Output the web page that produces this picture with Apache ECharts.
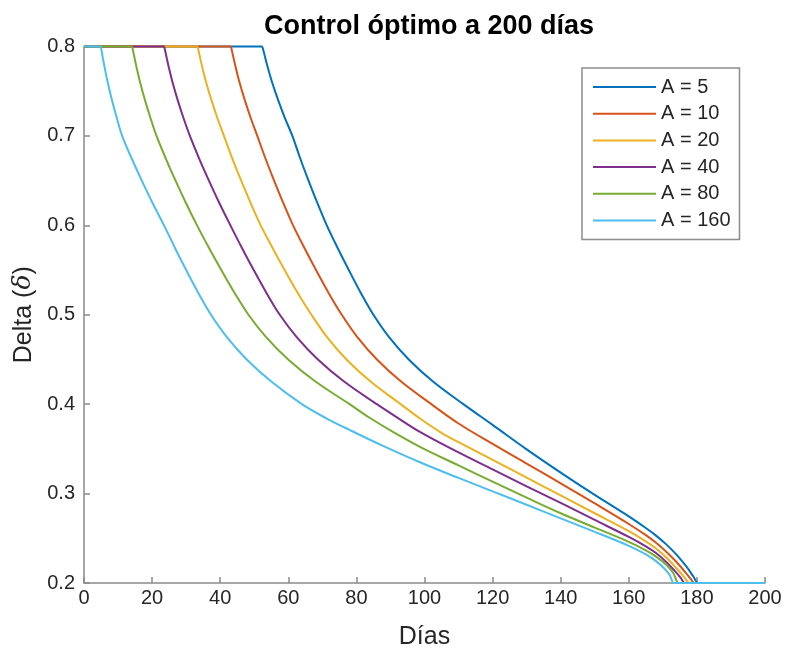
<!DOCTYPE html>
<html>
<head>
	<meta charset="utf-8" />
	<title>Control óptimo a 200 días</title>
	<script type="text/javascript" src="https://cdn.jsdelivr.net/npm/echarts@6/dist/echarts.min.js"></script>
	<style>
		html, body {margin:0;padding:0;background:#fff;}
		#chart {width:786px;height:654px;}
	</style>
</head>
<body>
	<div id="chart"></div>

	<script>
		// leyenda y colores (MATLAB por defecto)
		var names  = ['A = 5', 'A = 10', 'A = 20', 'A = 40', 'A = 80', 'A = 160'];
		var colors = ['#0072BD', '#D95319', '#EDB120', '#7E2F8E', '#77AC30', '#4DBEEE'];

		// [día, delta]
		var curveA5 = [[0,0.8],[51.6,0.8],[52.2,0.8],[52.72,0.795],[53.25,0.787],[53.88,0.778],[55.24,0.76],[57.02,0.74],[59.01,0.72],[61.2,0.7],[63.48,0.675],[65.94,0.65],[68.53,0.625],[71.3,0.6],[74.46,0.575],[77.77,0.55],[81.22,0.525],[85.0,0.5],[89.6,0.475],[95.37,0.45],[102.59,0.425],[111.4,0.4],[120,0.3768],[130,0.3495],[140,0.3235],[150,0.2985],[160,0.2745],[165,0.2615],[168,0.253],[171,0.2432],[174,0.2318],[177,0.218],[179,0.207],[180.3,0.2],[180.8,0.2],[200,0.2]];
		var curveA10 = [[0,0.8],[42.4,0.8],[43.0,0.8],[43.46,0.795],[43.92,0.787],[44.47,0.778],[45.66,0.76],[47.23,0.74],[48.97,0.72],[50.9,0.7],[53.27,0.675],[55.83,0.65],[58.52,0.625],[61.4,0.6],[64.7,0.575],[68.15,0.55],[71.75,0.525],[75.7,0.5],[80.28,0.475],[86.03,0.45],[93.21,0.425],[102.0,0.4],[110,0.3784],[120,0.3555],[130,0.3335],[140,0.3115],[150,0.289],[160,0.266],[165,0.2535],[168,0.245],[171,0.235],[174,0.2235],[176.5,0.2125],[178.2,0.2045],[179.2,0.2],[179.7,0.2],[200,0.2]];
		var curveA20 = [[0,0.8],[32.6,0.8],[33.2,0.8],[33.66,0.795],[34.12,0.787],[34.67,0.778],[35.86,0.76],[37.43,0.74],[39.17,0.72],[41.1,0.7],[43.54,0.675],[46.17,0.65],[48.94,0.625],[51.9,0.6],[55.34,0.575],[58.93,0.55],[62.68,0.525],[66.8,0.5],[71.37,0.475],[77.09,0.45],[84.25,0.425],[93.0,0.4],[98.65,0.384],[105,0.368],[110,0.3575],[120,0.3378],[130,0.3178],[140,0.298],[150,0.278],[160,0.258],[165,0.2465],[168,0.2385],[171,0.2285],[174,0.2165],[176.3,0.2065],[177.8,0.2],[178.3,0.2],[200,0.2]];
		var curveA40 = [[0,0.8],[22.8,0.8],[23.4,0.8],[23.85,0.795],[24.3,0.787],[24.83,0.778],[26.0,0.76],[27.52,0.74],[29.22,0.72],[31.1,0.7],[33.79,0.675],[36.69,0.65],[39.74,0.625],[43.0,0.6],[46.35,0.575],[49.84,0.55],[53.5,0.525],[57.5,0.5],[62.47,0.475],[68.69,0.45],[76.48,0.425],[86.0,0.4],[91,0.3875],[98.65,0.369],[110,0.346],[120,0.327],[130,0.308],[140,0.2895],[150,0.2705],[160,0.2515],[165,0.241],[168,0.2335],[171,0.2235],[173.5,0.2135],[175.3,0.2055],[176.4,0.2],[176.9,0.2],[200,0.2]];
		var curveA80 = [[0,0.8],[13.4,0.8],[14.0,0.8],[14.42,0.795],[14.85,0.787],[15.36,0.778],[16.46,0.76],[17.91,0.74],[19.52,0.72],[21.3,0.7],[23.99,0.675],[26.89,0.65],[29.94,0.625],[33.2,0.6],[36.68,0.575],[40.33,0.55],[44.13,0.525],[48.3,0.5],[53.48,0.475],[59.96,0.45],[68.08,0.425],[78.0,0.4],[84,0.3845],[91,0.3684],[98.65,0.3523],[110,0.3315],[120,0.3134],[130,0.2955],[140,0.278],[150,0.262],[160,0.246],[165,0.2365],[168,0.2295],[171,0.2205],[173,0.2115],[174.6,0.2],[175.1,0.2],[200,0.2]];
		var curveA160 = [[0,0.8],[4.2,0.8],[4.8,0.8],[5.17,0.795],[5.54,0.787],[5.99,0.778],[6.96,0.76],[8.22,0.74],[9.64,0.72],[11.2,0.7],[13.98,0.675],[16.98,0.65],[20.13,0.625],[23.5,0.6],[26.68,0.575],[30.01,0.55],[33.49,0.525],[37.3,0.5],[41.96,0.475],[47.79,0.45],[55.09,0.425],[64.0,0.4],[71,0.3845],[78.1,0.371],[88,0.353],[98.65,0.335],[110,0.3175],[120,0.3025],[130,0.2875],[140,0.2722],[150,0.2572],[160,0.2415],[165,0.232],[168,0.2245],[170.5,0.216],[172,0.209],[173.2,0.2],[173.7,0.2],[200,0.2]];

		var curves = [curveA5, curveA10, curveA20, curveA40, curveA80, curveA160];

		var font = 'Liberation Sans, Arial, Helvetica, sans-serif';
		var axisGray = '#8a8a8a';
		var textColor = '#262626';

		var chart = echarts.init(document.getElementById('chart'), null, {renderer: 'canvas'});

		var series = curves.map(function(data, i) {
			return {
				name: names[i],
				type: 'line',
				data: data,
				smooth: 0.35,
				symbol: 'none',
				clip: false,
				lineStyle: {color: colors[i], width: 2},
				itemStyle: {color: colors[i]},
				emphasis: {disabled: true}
			};
		});

		var option = {
			animation: false,
			backgroundColor: '#fff',
			textStyle: {fontFamily: font},
			title: {
				text: 'Control óptimo a 200 días',
				left: 424,
				textAlign: 'center',
				top: 8,
				textStyle: {fontSize: 27, fontWeight: 'bold', color: '#000', fontFamily: font}
			},
			legend: {
				orient: 'vertical',
				left: 582,
				top: 68,
				padding: [9, 9, 9, 11],
				icon: 'rect',
				itemWidth: 63,
				itemHeight: 2,
				itemGap: 6.7,
				itemTextGap: 4,
				borderColor: '#8c8c8c',
				borderWidth: 1.5,
				backgroundColor: '#fff',
				data: names,
				textStyle: {fontSize: 20, lineHeight: 20, color: textColor, fontFamily: font}
			},
			grid: {left: 84, right: 21, top: 46.5, bottom: 71, outerBoundsMode: 'none', containLabel: false},
			xAxis: {
				type: 'value',
				min: 0,
				max: 200,
				interval: 20,
				name: 'Días',
				nameLocation: 'middle',
				nameGap: 42,
				nameTextStyle: {fontSize: 25, color: textColor, fontFamily: font},
				axisLine: {lineStyle: {color: axisGray, width: 1.5}},
				axisTick: {inside: true, length: 6, lineStyle: {color: axisGray, width: 1.5}},
				axisLabel: {fontSize: 20, color: textColor, margin: 5, fontFamily: font},
				splitLine: {show: false}
			},
			yAxis: {
				type: 'value',
				min: 0.2,
				max: 0.8,
				interval: 0.1,
				name: 'Delta ({it|δ})',
				nameLocation: 'middle',
				nameGap: 36,
				nameRotate: 90,
				nameTextStyle: {
					fontSize: 25, color: textColor, fontFamily: font,
					rich: {it: {fontSize: 25, fontStyle: 'italic', color: textColor, fontFamily: 'DejaVu Serif, serif'}}
				},
				axisLine: {show: true, lineStyle: {color: axisGray, width: 1.5}},
				axisTick: {show: true, inside: true, length: 6, lineStyle: {color: axisGray, width: 1.5}},
				axisLabel: {
					fontSize: 20, color: textColor, margin: 9, fontFamily: font,
					formatter: function(v) { return v.toFixed(1); }
				},
				splitLine: {show: false}
			},
			series: series
		};

		chart.setOption(option);
	</script>
</body>
</html>
